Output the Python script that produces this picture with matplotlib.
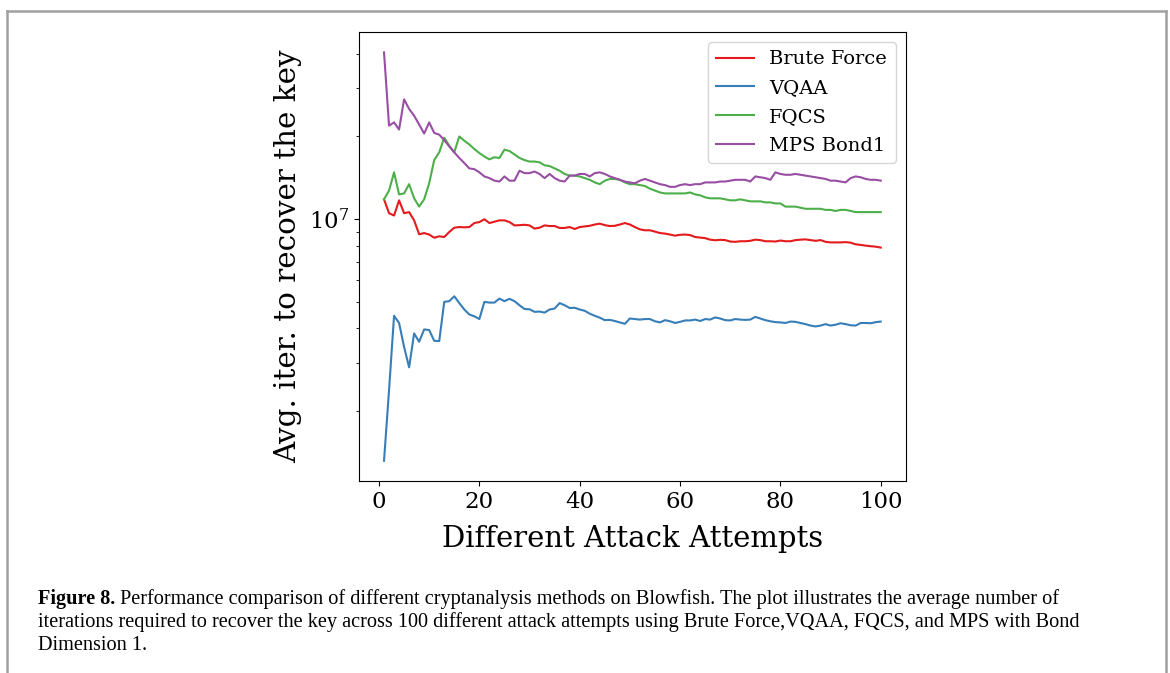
import matplotlib
matplotlib.use("Agg")
import matplotlib.pyplot as plt
from matplotlib.lines import Line2D
import numpy as np

attempts = list(range(1, 101))

brute_force = [
    1.18e7, 1.05e7, 1.03e7, 1.17e7, 1.05e7, 1.06e7, 9.89e6, 8.80e6, 8.89e6, 8.78e6,
    8.55e6, 8.65e6, 8.60e6, 8.97e6, 9.30e6, 9.35e6, 9.33e6, 9.35e6, 9.67e6, 9.75e6,
    9.98e6, 9.67e6, 9.78e6, 9.89e6, 9.89e6, 9.75e6, 9.48e6, 9.50e6, 9.53e6, 9.48e6,
    9.23e6, 9.30e6, 9.48e6, 9.43e6, 9.43e6, 9.28e6, 9.28e6, 9.35e6, 9.20e6, 9.35e6,
    9.40e6, 9.45e6, 9.55e6, 9.62e6, 9.50e6, 9.43e6, 9.45e6, 9.55e6, 9.67e6, 9.55e6,
    9.35e6, 9.17e6, 9.10e6, 9.10e6, 9.00e6, 8.89e6, 8.85e6, 8.78e6, 8.70e6, 8.76e6,
    8.78e6, 8.74e6, 8.60e6, 8.56e6, 8.52e6, 8.41e6, 8.37e6, 8.40e6, 8.38e6, 8.28e6,
    8.26e6, 8.30e6, 8.30e6, 8.33e6, 8.41e6, 8.38e6, 8.30e6, 8.30e6, 8.28e6, 8.35e6,
    8.30e6, 8.30e6, 8.38e6, 8.41e6, 8.43e6, 8.38e6, 8.33e6, 8.38e6, 8.26e6, 8.22e6,
    8.22e6, 8.22e6, 8.24e6, 8.20e6, 8.09e6, 8.05e6, 8.00e6, 7.96e6, 7.93e6, 7.87e6,
]

vqaa = [
    1.315e6, 2.38e6, 4.44e6, 4.18e6, 3.42e6, 2.88e6, 3.83e6, 3.57e6, 3.96e6, 3.94e6,
    3.60e6, 3.59e6, 4.99e6, 5.02e6, 5.23e6, 4.94e6, 4.68e6, 4.49e6, 4.42e6, 4.32e6,
    4.99e6, 4.96e6, 4.96e6, 5.13e6, 5.02e6, 5.12e6, 5.02e6, 4.85e6, 4.70e6, 4.69e6,
    4.59e6, 4.60e6, 4.56e6, 4.68e6, 4.72e6, 4.94e6, 4.85e6, 4.74e6, 4.75e6, 4.68e6,
    4.63e6, 4.52e6, 4.44e6, 4.37e6, 4.28e6, 4.29e6, 4.25e6, 4.20e6, 4.15e6, 4.34e6,
    4.32e6, 4.30e6, 4.32e6, 4.32e6, 4.24e6, 4.20e6, 4.28e6, 4.24e6, 4.18e6, 4.22e6,
    4.27e6, 4.27e6, 4.30e6, 4.25e6, 4.32e6, 4.30e6, 4.38e6, 4.34e6, 4.28e6, 4.27e6,
    4.32e6, 4.30e6, 4.29e6, 4.30e6, 4.40e6, 4.34e6, 4.28e6, 4.24e6, 4.21e6, 4.20e6,
    4.18e6, 4.23e6, 4.22e6, 4.18e6, 4.14e6, 4.09e6, 4.06e6, 4.09e6, 4.14e6, 4.09e6,
    4.12e6, 4.17e6, 4.14e6, 4.10e6, 4.09e6, 4.18e6, 4.18e6, 4.17e6, 4.21e6, 4.23e6,
]

fqcs = [
    1.18e7, 1.27e7, 1.48e7, 1.23e7, 1.24e7, 1.34e7, 1.19e7, 1.11e7, 1.18e7, 1.35e7,
    1.64e7, 1.75e7, 1.98e7, 1.85e7, 1.75e7, 2.00e7, 1.93e7, 1.87e7, 1.80e7, 1.74e7,
    1.69e7, 1.65e7, 1.68e7, 1.67e7, 1.79e7, 1.77e7, 1.72e7, 1.67e7, 1.64e7, 1.62e7,
    1.62e7, 1.61e7, 1.57e7, 1.56e7, 1.53e7, 1.50e7, 1.46e7, 1.44e7, 1.44e7, 1.43e7,
    1.41e7, 1.39e7, 1.36e7, 1.34e7, 1.38e7, 1.40e7, 1.40e7, 1.39e7, 1.36e7, 1.34e7,
    1.34e7, 1.33e7, 1.32e7, 1.29e7, 1.27e7, 1.25e7, 1.24e7, 1.24e7, 1.24e7, 1.24e7,
    1.24e7, 1.25e7, 1.23e7, 1.22e7, 1.20e7, 1.19e7, 1.19e7, 1.19e7, 1.18e7, 1.17e7,
    1.17e7, 1.18e7, 1.17e7, 1.16e7, 1.16e7, 1.16e7, 1.15e7, 1.15e7, 1.14e7, 1.14e7,
    1.11e7, 1.11e7, 1.11e7, 1.10e7, 1.09e7, 1.09e7, 1.09e7, 1.09e7, 1.08e7, 1.08e7,
    1.07e7, 1.08e7, 1.08e7, 1.07e7, 1.06e7, 1.06e7, 1.06e7, 1.06e7, 1.06e7, 1.06e7,
]

mps_bond1 = [
    4.05e7, 2.19e7, 2.25e7, 2.12e7, 2.73e7, 2.52e7, 2.38e7, 2.21e7, 2.05e7, 2.25e7,
    2.06e7, 2.03e7, 1.94e7, 1.84e7, 1.75e7, 1.67e7, 1.60e7, 1.53e7, 1.52e7, 1.48e7,
    1.43e7, 1.41e7, 1.38e7, 1.37e7, 1.43e7, 1.38e7, 1.38e7, 1.50e7, 1.47e7, 1.47e7,
    1.49e7, 1.46e7, 1.41e7, 1.46e7, 1.41e7, 1.38e7, 1.37e7, 1.44e7, 1.44e7, 1.46e7,
    1.46e7, 1.43e7, 1.47e7, 1.48e7, 1.46e7, 1.43e7, 1.41e7, 1.39e7, 1.37e7, 1.36e7,
    1.35e7, 1.38e7, 1.40e7, 1.38e7, 1.36e7, 1.34e7, 1.33e7, 1.31e7, 1.31e7, 1.33e7,
    1.34e7, 1.33e7, 1.34e7, 1.34e7, 1.36e7, 1.36e7, 1.36e7, 1.37e7, 1.37e7, 1.38e7,
    1.39e7, 1.39e7, 1.39e7, 1.37e7, 1.43e7, 1.42e7, 1.41e7, 1.39e7, 1.48e7, 1.46e7,
    1.45e7, 1.45e7, 1.46e7, 1.45e7, 1.44e7, 1.43e7, 1.42e7, 1.41e7, 1.40e7, 1.38e7,
    1.38e7, 1.37e7, 1.36e7, 1.41e7, 1.43e7, 1.42e7, 1.40e7, 1.39e7, 1.39e7, 1.38e7,
]

series_names = ["Brute Force", "VQAA", "FQCS", "MPS Bond1"]
series_colors = ["#e41a1c", "#377eb8", "#4daf4a", "#984ea3"]

x_label = "Different Attack Attempts"
y_label = "Avg. iter. to recover the key"
caption_bold = "Figure 8."
caption_lines = [
    " Performance comparison of different cryptanalysis methods on Blowfish. The plot illustrates the average number of",
    "iterations required to recover the key across 100 different attack attempts using Brute Force,VQAA, FQCS, and MPS with Bond",
    "Dimension 1.",
]

plt.rcParams["font.family"] = "DejaVu Serif"

fig = plt.figure(figsize=(11.7, 6.73), dpi=100)
ax = fig.add_axes([0.307, 0.285, 0.467, 0.6675])

for vals, name, col in zip([brute_force, vqaa, fqcs, mps_bond1], series_names, series_colors):
    ax.plot(attempts, vals, color=col, lw=1.5, label=name)

ax.set_yscale("log")
ax.set_xticks([0, 20, 40, 60, 80, 100])
ax.tick_params(axis="both", labelsize=16.5)
ax.set_xlabel(x_label, fontsize=21, labelpad=9)
ax.set_ylabel(y_label, fontsize=21.2, labelpad=5)
ax.yaxis.set_minor_formatter(matplotlib.ticker.NullFormatter())
leg = ax.legend(loc="upper right", fontsize=14, handlelength=1.95, handletextpad=0.77,
                borderpad=0.45, labelspacing=0.55, borderaxespad=0.5)

# outer frame of the figure panel
frame_col = "#a0a0a0"
fig.add_artist(Line2D([7/1170, 7/1170], [0, 1 - 11/673], color=frame_col, lw=1.8, transform=fig.transFigure))
fig.add_artist(Line2D([1166/1170, 1166/1170], [0, 1 - 11/673], color=frame_col, lw=1.8, transform=fig.transFigure))
fig.add_artist(Line2D([7/1170, 1166/1170], [1 - 11/673, 1 - 11/673], color=frame_col, lw=1.8, transform=fig.transFigure))

# caption
cap_font = "Liberation Serif"
cap_size = 14.6
x0 = 38 / 1170
y1 = 1 - 599 / 673
t = fig.text(x0, y1, caption_bold, fontsize=cap_size, fontweight="bold", family=cap_font, va="center")
fig.canvas.draw()
bb = t.get_window_extent()
fig.text(bb.x1 / fig.bbox.width, y1, caption_lines[0], fontsize=cap_size, family=cap_font, va="center")
fig.text(x0, 1 - 622 / 673, caption_lines[1], fontsize=cap_size, family=cap_font, va="center")
fig.text(x0, 1 - 646 / 673, caption_lines[2], fontsize=cap_size, family=cap_font, va="center")

fig.savefig("out.png", dpi=100)
